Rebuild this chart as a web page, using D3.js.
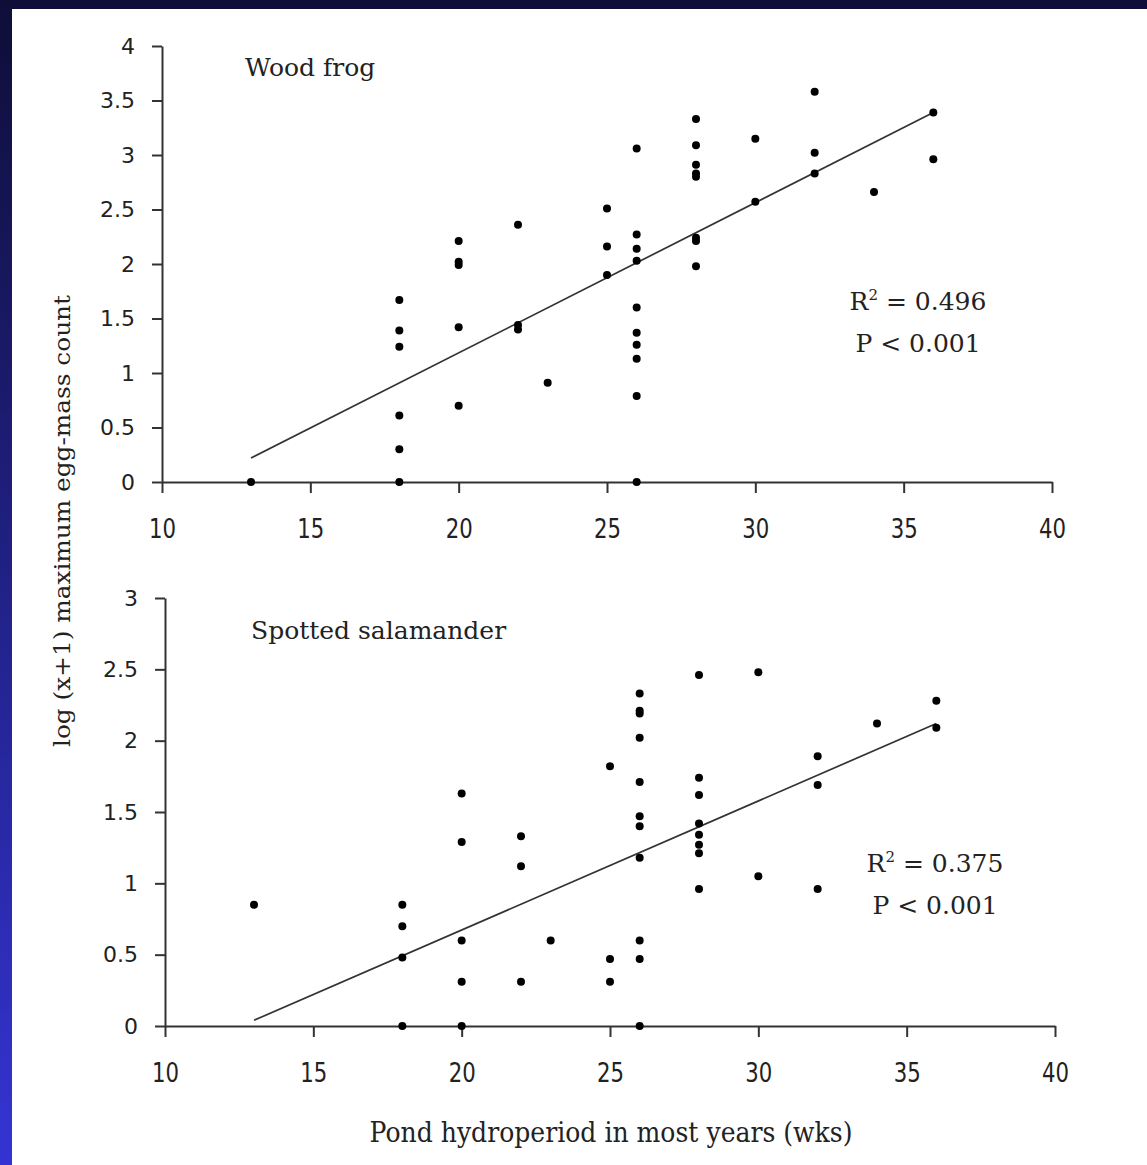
<!DOCTYPE html>
<html>
<head>
<meta charset="utf-8">
<script src="https://cdn.jsdelivr.net/npm/d3@7"></script>
<style>
  body { margin: 0; background: #fff; }
  svg { display: block; }
</style>
</head>
<body>
<div id="chart"></div>
<script>
// Wood frog data (hydroperiod in weeks, log(x+1) max egg-mass count)
var frogWeeks = [13, 18, 18, 18, 18, 18, 18, 20, 20, 20, 20, 20, 22, 22, 22, 23, 25, 25, 25,
    26, 26, 26, 26, 26, 26, 26, 26, 26, 26, 28, 28, 28, 28, 28, 28, 28, 28,
    30, 30, 32, 32, 32, 34, 36, 36];
var frogCounts = [0, 1.67, 1.39, 1.24, 0.61, 0.30, 0, 2.21, 2.02, 1.99, 1.42, 0.70, 2.36, 1.44, 1.40, 0.91, 2.51, 2.16, 1.90,
    3.06, 2.27, 2.14, 2.03, 1.60, 1.37, 1.26, 1.13, 0.79, 0, 3.33, 3.09, 2.91, 2.83, 2.80, 2.24, 2.21, 1.98,
    3.15, 2.57, 3.58, 3.02, 2.83, 2.66, 3.39, 2.96];

// Spotted salamander data
var salWeeks = [13, 18, 18, 18, 18, 20, 20, 20, 20, 20, 22, 22, 22, 23, 25, 25, 25,
    26, 26, 26, 26, 26, 26, 26, 26, 26, 26, 26, 28, 28, 28, 28, 28, 28, 28, 28,
    30, 30, 32, 32, 32, 34, 36, 36];
var salCounts = [0.85, 0.85, 0.70, 0.48, 0, 1.63, 1.29, 0.60, 0.31, 0, 1.33, 1.12, 0.31, 0.60, 1.82, 0.47, 0.31,
    2.33, 2.21, 2.19, 2.02, 1.71, 1.47, 1.40, 1.18, 0.60, 0.47, 0, 2.46, 1.74, 1.62, 1.42, 1.34, 1.27, 1.21, 0.96,
    2.48, 1.05, 1.89, 1.69, 0.96, 2.12, 2.28, 2.09];

// trendline ends
var frogTrend = [[13, 0.22], [36, 3.39]];
var salTrend = [[13, 0.04], [36, 2.12]];

var xTicks = [10, 15, 20, 25, 30, 35, 40];
var frogYTicks = [0, 0.5, 1, 1.5, 2, 2.5, 3, 3.5, 4];
var salYTicks = [0, 0.5, 1, 1.5, 2, 2.5, 3];

var W = 1147, H = 1165;

var svg = d3.select("#chart").append("svg")
    .attr("width", W)
    .attr("height", H);

// slide background: dark navy frame, blue gradient on the left
var grad = svg.append("defs").append("linearGradient")
    .attr("id", "frame")
    .attr("x1", 0).attr("y1", 0).attr("x2", 0).attr("y2", 1);
grad.append("stop").attr("offset", "0%").attr("stop-color", "#0e0e38");
grad.append("stop").attr("offset", "100%").attr("stop-color", "#3434d4");

svg.append("rect").attr("width", W).attr("height", H).attr("fill", "url(#frame)");
svg.append("rect").attr("x", 0).attr("y", 0).attr("width", W).attr("height", 9).attr("fill", "#0e0e38");
svg.append("rect").attr("x", 12).attr("y", 9).attr("width", W - 12).attr("height", H - 9).attr("fill", "#fff");

function drawPanel(opts) {
    var x = d3.scaleLinear().domain([10, 40]).range([opts.left, opts.right]);
    var y = d3.scaleLinear().domain([0, opts.yMax]).range([opts.bottom, opts.top]);

    var g = svg.append("g");

    // x axis
    var xa = g.append("g")
        .attr("transform", "translate(0," + opts.bottom + ")")
        .call(d3.axisBottom(x).tickValues(xTicks).tickSize(11).tickSizeOuter(0).tickPadding(26).tickFormat(d3.format("d")));

    xa.selectAll("text")
        .attr("font-family", "'DejaVu Sans', sans-serif")
        .attr("font-size", 27)
        .attr("fill", "#222")
        .attr("textLength", 27)
        .attr("lengthAdjust", "spacingAndGlyphs");

    // y axis
    var ya = g.append("g")
        .attr("transform", "translate(" + opts.left + ",0)")
        .call(d3.axisLeft(y).tickValues(opts.yTicks).tickSize(10).tickSizeOuter(0).tickPadding(17).tickFormat(d3.format("")));

    ya.selectAll("text")
        .attr("font-family", "'DejaVu Sans', sans-serif")
        .attr("font-size", 22)
        .attr("fill", "#222");

    g.selectAll(".domain, .tick line")
        .attr("stroke", "#333")
        .attr("stroke-width", 2);

    // trendline
    g.append("path")
        .datum(opts.trend)
        .attr("fill", "none")
        .attr("stroke", "#333")
        .attr("stroke-width", 1.7)
        .attr("d", d3.line().x(function (d) { return x(d[0]); }).y(function (d) { return y(d[1]); }));

    // points
    g.selectAll("circle.pt")
        .data(opts.xs)
        .enter()
        .append("circle")
        .attr("class", "pt")
        .attr("cx", function (d) { return x(d); })
        .attr("cy", function (d, i) { return y(opts.ys[i]); })
        .attr("r", 4)
        .attr("fill", "#000");

    // species label
    g.append("text")
        .attr("x", opts.labelX)
        .attr("y", opts.labelY)
        .attr("font-family", "'DejaVu Serif', serif")
        .attr("font-size", 25)
        .attr("fill", "#222")
        .text(opts.label);

    // R squared and P
    var r = g.append("text")
        .attr("x", opts.statX)
        .attr("y", opts.statY)
        .attr("text-anchor", "middle")
        .attr("font-family", "'DejaVu Serif', serif")
        .attr("font-size", 25)
        .attr("fill", "#222");
    r.append("tspan").text("R");
    r.append("tspan").attr("font-size", 15).attr("dy", -10).text("2");
    r.append("tspan").attr("dy", 10).text(" = " + opts.r2);

    g.append("text")
        .attr("x", opts.statX)
        .attr("y", opts.statY + 42)
        .attr("text-anchor", "middle")
        .attr("font-family", "'DejaVu Serif', serif")
        .attr("font-size", 25)
        .attr("fill", "#222")
        .text("P < 0.001");
}

drawPanel({
    left: 162, right: 1052, top: 46, bottom: 482, yMax: 4,
    yTicks: frogYTicks, xs: frogWeeks, ys: frogCounts, trend: frogTrend,
    label: "Wood frog", labelX: 245, labelY: 76,
    r2: "0.496", statX: 918, statY: 310
});

drawPanel({
    left: 165, right: 1055, top: 598, bottom: 1026, yMax: 3,
    yTicks: salYTicks, xs: salWeeks, ys: salCounts, trend: salTrend,
    label: "Spotted salamander", labelX: 251, labelY: 639,
    r2: "0.375", statX: 935, statY: 872
});

// axis titles
svg.append("text")
    .attr("x", 611)
    .attr("y", 1142)
    .attr("text-anchor", "middle")
    .attr("font-family", "'DejaVu Serif', serif")
    .attr("font-size", 27)
    .attr("fill", "#222")
    .attr("textLength", 483)
    .attr("lengthAdjust", "spacingAndGlyphs")
    .text("Pond hydroperiod in most years (wks)");

svg.append("text")
    .attr("transform", "translate(70,521) rotate(-90)")
    .attr("text-anchor", "middle")
    .attr("font-family", "'DejaVu Serif', serif")
    .attr("font-size", 23)
    .attr("fill", "#222")
    .attr("textLength", 452)
    .attr("lengthAdjust", "spacingAndGlyphs")
    .text("log (x+1) maximum egg-mass count");
</script>
</body>
</html>
